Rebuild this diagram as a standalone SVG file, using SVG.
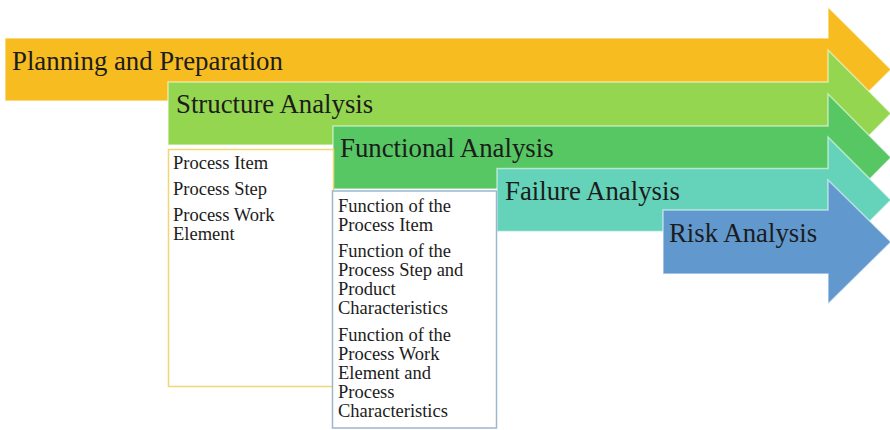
<svg xmlns="http://www.w3.org/2000/svg" width="890" height="430" viewBox="0 0 890 430">
<style>
.arrow{stroke:#ffffff;stroke-opacity:0.55;stroke-width:1.5;stroke-linejoin:miter}
.title{font-family:"Liberation Serif","Times New Roman",serif;font-size:26.8px;fill:#1c1c1c}
.item{font-family:"Liberation Serif","Times New Roman",serif;font-size:18.5px;fill:#1c1c1c}
.box{fill:#ffffff;stroke-width:1.5}
</style>
<rect width="890" height="430" fill="#ffffff"/>
<g id="planning">
<path class="arrow" fill="#f7bd20" d="M5,38 H828 V7 L891,69.5 L828,132 V101 H5 Z"/>
<text class="title" x="12" y="70">Planning and Preparation</text>
</g>
<g id="structure">
<path class="arrow" fill="#95d651" d="M168,82 H828 V50 L891,113.5 L828,177 V145 H168 Z"/>
<text class="title" x="176" y="113">Structure Analysis</text>
</g>
<g id="functional">
<path class="arrow" fill="#56c763" d="M333,126 H828 V94 L891,157.5 L828,221 V189 H333 Z"/>
<text class="title" x="340" y="157">Functional Analysis</text>
</g>
<g id="failure">
<path class="arrow" fill="#65d3b9" d="M497,168.5 H828 V137 L891,200 L828,263 V231.5 H497 Z"/>
<text class="title" x="505" y="200">Failure Analysis</text>
</g>
<g id="risk">
<path class="arrow" fill="#6199cf" d="M663,210 H828 V180 L891,242 L828,304 V274 H663 Z"/>
<text class="title" x="669" y="242">Risk Analysis</text>
</g>
<g id="structure-box">
<rect class="box" x="168.5" y="149.5" width="165" height="237" stroke="#f1d675"/>
<text class="item" x="173" y="169">Process Item</text>
<text class="item" x="173" y="195">Process Step</text>
<text class="item" x="173" y="221">Process Work</text>
<text class="item" x="173" y="240">Element</text>
</g>
<g id="functional-box">
<rect class="box" x="332.5" y="191" width="164" height="237" stroke="#9db6cf"/>
<text class="item" x="338" y="212">Function of the</text>
<text class="item" x="338" y="231">Process Item</text>
<text class="item" x="338" y="257">Function of the</text>
<text class="item" x="338" y="276">Process Step and</text>
<text class="item" x="338" y="295">Product</text>
<text class="item" x="338" y="314">Characteristics</text>
<text class="item" x="338" y="341">Function of the</text>
<text class="item" x="338" y="360">Process Work</text>
<text class="item" x="338" y="379">Element and</text>
<text class="item" x="338" y="398">Process</text>
<text class="item" x="338" y="417">Characteristics</text>
</g>
<g id="connectors"></g>
</svg>
